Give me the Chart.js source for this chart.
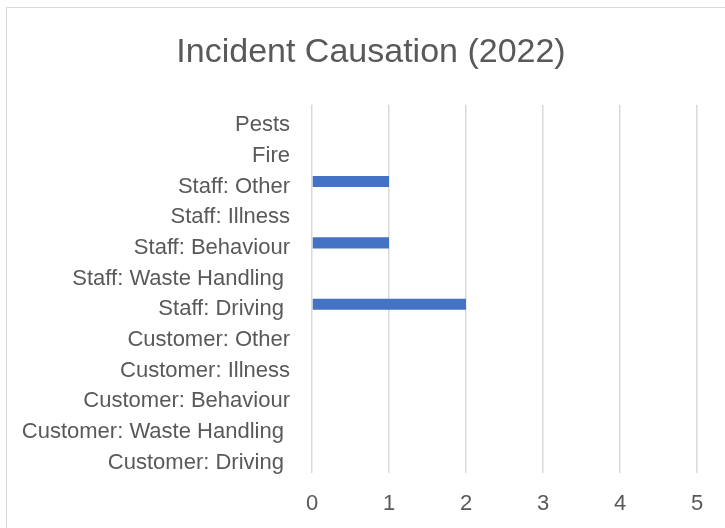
<!DOCTYPE html>
<html lang="en">
<head>
    <meta charset="UTF-8">
    <title>Incident Causation (2022)</title>
    <style>
        body {
            margin: 0;
            background-color: #ffffff;
            font-family: "Liberation Sans", Arial, sans-serif;
        }
        .frame {
            position: absolute;
            left: 6px;
            top: 7px;
            width: 900px;
            height: 700px;
            border: 1px solid #d9d9d9;
        }
        .container {
            position: absolute;
            left: 0;
            top: 0;
            width: 725px;
            height: 528px;
        }
    </style>
</head>
<body>
    <div class="frame"></div>
    <div class="container">
        <canvas id="myChart" width="725" height="528"></canvas>
    </div>
    <script src="https://cdn.jsdelivr.net/npm/chart.js"></script>
    <script>
        // Categorias (de arriba a abajo)
        const categories = [
            'Pests',
            'Fire',
            'Staff: Other',
            'Staff: Illness',
            'Staff: Behaviour',
            'Staff: Waste Handling ',
            'Staff: Driving ',
            'Customer: Other',
            'Customer: Illness',
            'Customer: Behaviour',
            'Customer: Waste Handling ',
            'Customer: Driving '
        ];

        // Numero de incidentes
        const incidents = [0, 0, 1, 0, 1, 0, 2, 0, 0, 0, 0, 0];

        const xTicks = [0, 1, 2, 3, 4, 5];

        const textColor = '#595959';
        const gridColor = '#d9d9d9';
        const fontFamily = '"Liberation Sans", Arial, sans-serif';

        const ctx = document.getElementById('myChart').getContext('2d');

        const config = {
            type: 'bar',
            data: {
                labels: categories,
                datasets: [{
                    label: 'Incidents',
                    data: incidents,
                    backgroundColor: '#4472C4',
                    borderWidth: 0,
                    barPercentage: 0.36,
                    categoryPercentage: 1.0
                }]
            },
            options: {
                indexAxis: 'y',
                responsive: false,
                animation: false,
                layout: {
                    padding: { top: 0, right: 28, bottom: 0, left: 45 }
                },
                plugins: {
                    legend: { display: false },
                    tooltip: { enabled: false },
                    title: {
                        display: true,
                        text: 'Incident Causation (2022)',
                        color: textColor,
                        font: { size: 34, weight: 'normal', family: fontFamily },
                        padding: { top: 32, bottom: 32 }
                    }
                },
                scales: {
                    x: {
                        min: xTicks[0],
                        max: xTicks[xTicks.length - 1],
                        afterBuildTicks: (scale) => {
                            scale.ticks = xTicks.map(v => ({ value: v }));
                        },
                        afterFit: (scale) => { scale.height = 55; },
                        grid: {
                            color: gridColor,
                            lineWidth: 1.5,
                            drawTicks: false
                        },
                        border: { display: false },
                        ticks: {
                            color: textColor,
                            padding: 18,
                            font: { size: 22, family: fontFamily }
                        }
                    },
                    y: {
                        afterFit: (scale) => {
                            scale.width = 267;
                            // las etiquetas largas salen del margen izquierdo, no recortar
                            scale._computeLabelArea = () => undefined;
                        },
                        grid: { display: false, drawTicks: false },
                        border: { display: false },
                        ticks: {
                            color: textColor,
                            padding: 22,
                            labelOffset: 5,
                            autoSkip: false,
                            font: { size: 22, family: fontFamily }
                        }
                    }
                }
            }
        };

        const myChart = new Chart(ctx, config);
    </script>
</body>
</html>
